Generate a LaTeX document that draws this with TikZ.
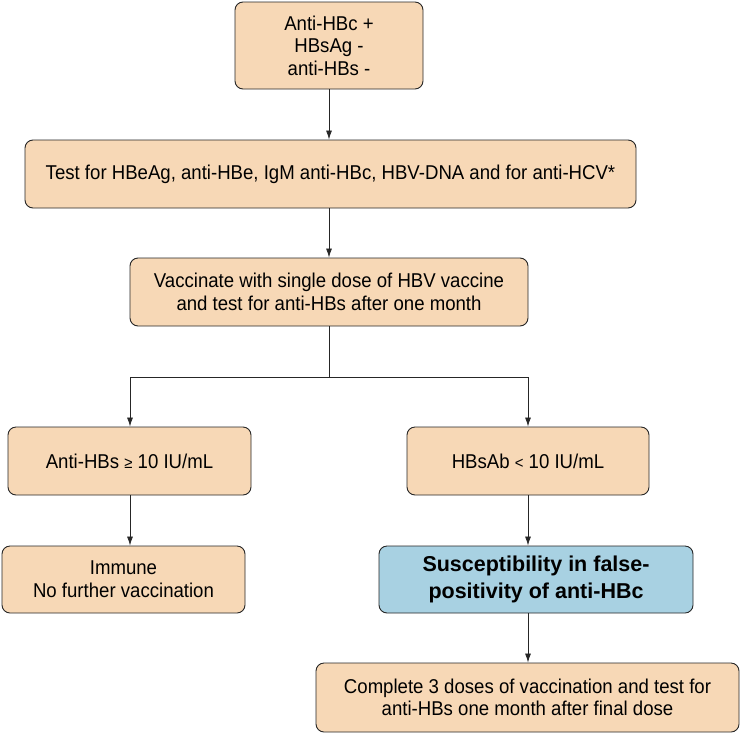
\documentclass[tikz,border=0pt]{standalone}
\usepackage{fontspec}
\setmainfont{Liberation Sans}[FakeStretch=0.93]
\newfontfamily\boldfam{Liberation Sans Bold}
\usetikzlibrary{arrows.meta}
\definecolor{peach}{RGB}{247,216,182}
\definecolor{lblue}{RGB}{168,209,226}
\tikzset{
  box/.style={draw=black!85, line width=0.9pt, rounded corners=8pt, fill=peach, align=center,
    font=\fontsize{20}{22.6}\selectfont, inner sep=0pt},
  bluebox/.style={box, fill=lblue, font=\boldfam\fontsize{21.5}{26.5}\selectfont},
  arr/.style={-{Latex[length=9pt,width=6pt]}, line width=0.8pt, black!85},
  ln/.style={line width=0.8pt, black!85}
}
\begin{document}
\begin{tikzpicture}[x=1pt,y=-1pt]
\useasboundingbox (0,0) rectangle (744,734);
\node[box, minimum width=188pt, minimum height=87pt] (b1) at (329,45.5) {Anti-HBc +\\HBsAg -\\anti-HBs -};
\node[box, minimum width=611pt, minimum height=68pt] (b2) at (330.5,174) {Test for HBeAg, anti-HBe, IgM anti-HBc, HBV-DNA and for anti-HCV*};
\node[box, minimum width=398pt, minimum height=68pt] (b3) at (329,292) {Vaccinate with single dose of HBV vaccine\\and test for anti-HBs after one month};
\node[box, minimum width=243pt, minimum height=68pt] (l1) at (129.5,461) {Anti-HBs {\fontsize{16}{16}\selectfont ≥} 10 IU/mL};
\node[box, minimum width=242pt, minimum height=68pt] (r1) at (528,461) {HBsAb {\fontsize{16}{16}\selectfont <} 10 IU/mL};
\node[box, minimum width=243pt, minimum height=67pt] (l2) at (123.5,579.5) {Immune\\No further vaccination};
\node[bluebox, minimum width=314pt, minimum height=67pt] (r2) at (536,579.5) {Susceptibility in false-\\positivity of anti-HBc};
\node[box, minimum width=423pt, minimum height=69pt] (r3) at (527.5,697.5) {Complete 3 doses of vaccination and test for\\anti-HBs one month after final dose};
\coordinate (sp) at (329,377);
\coordinate (spl) at (130,377);
\coordinate (spr) at (528,377);
\draw[arr] (b1.south) -- (b1.south |- b2.north);
\draw[arr] (b2.south -| b1.south) -- (b3.north);
\draw[ln] (b3.south) -- (sp);
\draw[ln] (spl) -- (spr);
\draw[arr] (spl) -- (spl |- l1.north);
\draw[arr] (spr) -- (spr |- r1.north);
\draw[arr] (l1.south -| spl) -- (spl |- l2.north);
\draw[arr] (r1.south) -- (r1.south |- r2.north);
\draw[arr] (r2.south -| r1.south) -- (r1.south |- r3.north);
\end{tikzpicture}
\end{document}
